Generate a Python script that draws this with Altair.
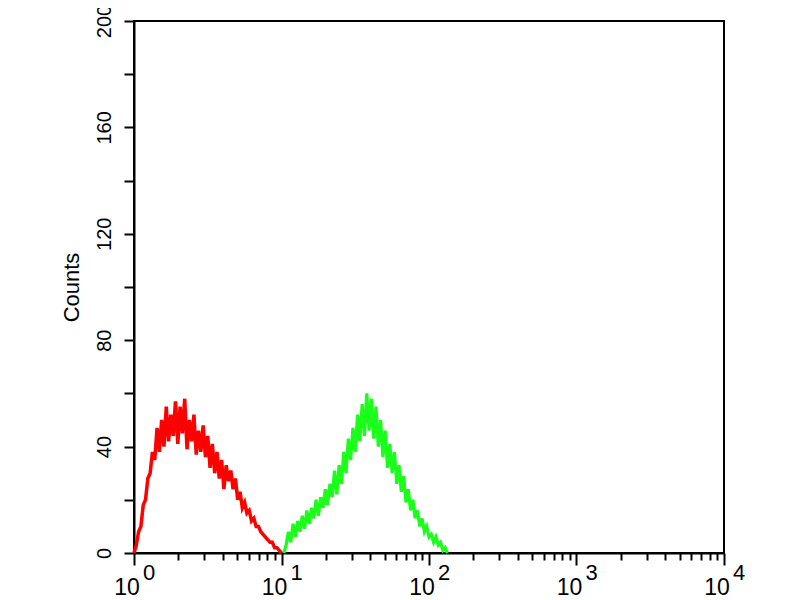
import altair as alt
import pandas as pd

# histogram channels (256 channels per decade) and counts
red_ch = [0, 4, 8, 12, 16, 20, 24, 28, 32, 36, 40, 44, 48, 52, 56, 60, 64, 68, 72, 76,
          80, 84, 88, 92, 96, 100, 104, 108, 112, 116, 120, 124, 128, 132, 136, 140,
          144, 148, 152, 156, 160, 164, 168, 172, 176, 180, 184, 188, 192, 196, 200,
          204, 208, 212, 216, 220, 224, 228, 232, 236, 240, 244, 248, 252, 256]
red_counts = [0, 3, 8, 10, 18, 20, 28, 30, 38, 35, 47, 38, 50, 40, 55, 42, 52, 44, 57, 41,
              55, 45, 58, 39, 50, 42, 52, 37, 46, 38, 48, 36, 44, 32, 41, 30,
              38, 28, 35, 24, 33, 27, 31, 24, 28, 20, 23, 17, 19, 15, 16,
              12, 13, 10, 10, 8, 7, 6, 5, 4, 4, 2, 2, 1, 0]

green_ch = [260, 264, 268, 272, 276, 280, 284, 288, 292, 296, 300, 304, 308, 312, 316,
            320, 324, 328, 332, 336, 340, 344, 348, 352, 356, 360, 364, 368, 372, 376,
            380, 384, 388, 392, 396, 400, 404, 408, 412, 416, 420, 424, 428, 432, 436,
            440, 444, 448, 452, 456, 460, 464, 468, 472, 476, 480, 484, 488, 492, 496,
            500, 504, 508, 512, 516, 520, 524, 528, 532, 536, 540, 544]
green_counts = [0, 3, 8, 4, 11, 6, 12, 8, 14, 9, 16, 11, 17, 13, 20,
                14, 21, 17, 24, 18, 26, 21, 31, 22, 33, 26, 38, 30, 43, 35,
                47, 38, 52, 42, 56, 44, 60, 46, 58, 43, 55, 40, 50, 36, 46,
                32, 41, 30, 38, 26, 33, 23, 29, 19, 24, 16, 20, 13, 16, 10,
                13, 8, 10, 6, 7, 4, 6, 3, 4, 1, 2, 0]

y_ticks = [0, 10, 20, 30, 40, 50, 60, 70, 80, 90, 100, 110, 120, 130, 140, 150,
           160, 170, 180, 190, 200]
decades = [1, 10, 100, 1000, 10000]
exponents = ["0", "1", "2", "3", "4"]
x_ticks = [1, 2, 3, 4, 5, 6, 7, 8, 9, 10, 20, 30, 40, 50, 60, 70, 80, 90,
           100, 200, 300, 400, 500, 600, 700, 800, 900,
           1000, 2000, 3000, 4000, 5000, 6000, 7000, 8000, 9000, 10000]

CHANNELS_PER_DECADE = 256

red = pd.DataFrame({"x": [10 ** (c / CHANNELS_PER_DECADE) for c in red_ch],
                    "count": red_counts})
green = pd.DataFrame({"x": [10 ** (c / CHANNELS_PER_DECADE) for c in green_ch],
                      "count": green_counts})
labels = pd.DataFrame({"x": decades, "exp": exponents, "zero": [0] * len(decades)})

FONT = "Liberation Sans"
xscale = alt.Scale(type="log", domain=[1, 10000], nice=False)
yscale = alt.Scale(domain=[0, 200], nice=False)

major_test = "indexof([1,10,100,1000,10000], datum.value) >= 0"

xaxis = alt.Axis(values=x_ticks, labels=False, title=None, grid=False,
                 domainColor="black", domainWidth=2, tickColor="black", tickWidth=2,
                 tickSize={"condition": {"test": major_test, "value": 12}, "value": 7})
yaxis = alt.Axis(values=y_ticks, grid=False, title="Counts",
                 labelExpr="datum.value % 40 == 0 ? datum.label : ''",
                 labelAngle=270, labelAlign="center", labelBaseline="alphabetic",
                 labelFont=FONT, labelFontSize=20, labelColor="black", labelPadding=14,
                 tickSize=10, tickColor="black", tickWidth=2,
                 domainColor="black", domainWidth=2,
                 titleFont=FONT, titleFontSize=22, titleFontWeight="normal",
                 titleColor="black", titleAngle=270, titleAlign="center",
                 titleBaseline="alphabetic", titleX=-56, titleY=266)

red_line = alt.Chart(red).mark_line(color="#ff0000", strokeWidth=3.5).encode(
    x=alt.X("x:Q", scale=xscale, axis=xaxis),
    y=alt.Y("count:Q", scale=yscale, axis=yaxis),
)
green_line = alt.Chart(green).mark_line(color="#1aff1a", strokeWidth=3.2).encode(
    x=alt.X("x:Q", scale=xscale),
    y=alt.Y("count:Q", scale=yscale),
)
ten_text = alt.Chart(labels).mark_text(
    text="10", font=FONT, fontSize=23, color="black", align="center",
    baseline="alphabetic", dx=-7, dy=42
).encode(x=alt.X("x:Q", scale=xscale), y=alt.Y("zero:Q", scale=yscale))
exp_text = alt.Chart(labels).mark_text(
    font=FONT, fontSize=22, color="black", align="left",
    baseline="alphabetic", dx=9, dy=27
).encode(x=alt.X("x:Q", scale=xscale), y=alt.Y("zero:Q", scale=yscale),
         text="exp:N")

chart = alt.layer(red_line, green_line, ten_text, exp_text).properties(
    width=590, height=532,
    autosize=alt.AutoSizeParams(type="none"),
    padding={"left": 126, "top": 13, "right": 60, "bottom": 47},
    background="white",
).configure_view(stroke="black", strokeWidth=2)

chart.save("out.html", embed_options={"renderer": "svg", "actions": False})
